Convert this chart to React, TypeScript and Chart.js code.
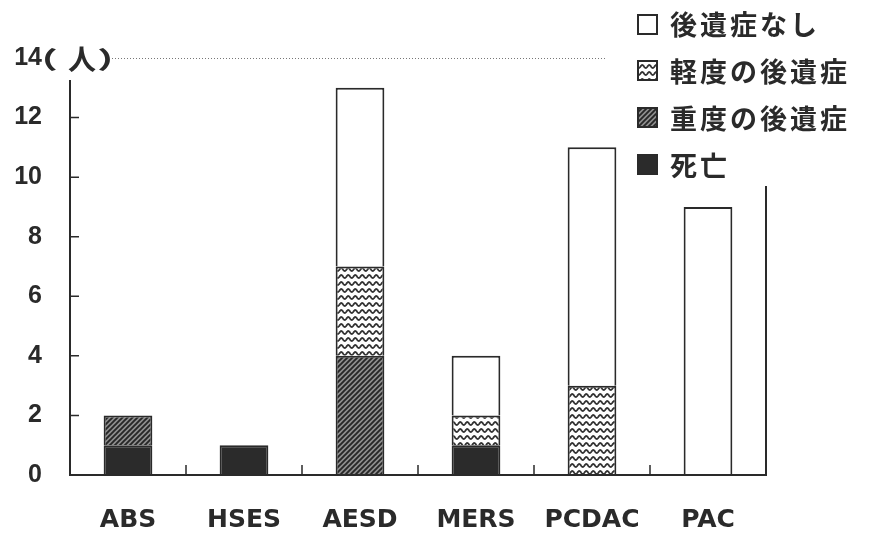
import { useEffect, useRef } from 'react';
import { Chart, registerables } from 'chart.js';

Chart.register(...registerables);

// Disease categories along the x axis
const categories = ['ABS', 'HSES', 'AESD', 'MERS', 'PCDAC', 'PAC'];

// Patients per outcome, stacked bottom to top
const deaths = [1, 1, 0, 1, 0, 0];
const severeSequelae = [1, 0, 4, 0, 0, 0];
const mildSequelae = [0, 0, 3, 1, 3, 0];
const noSequelae = [0, 0, 6, 2, 8, 9];

const seriesLabels = ['死亡', '重度の後遺症', '軽度の後遺症', '後遺症なし'];
const yTickValues = [0, 2, 4, 6, 8, 10, 12, 14];
const unitLabel = ['（', '人', '）'];

const INK = '#2a2a2a';
const LATIN = '"Liberation Sans", Arial, sans-serif';
const LATIN_WIDE = '"DejaVu Sans", sans-serif';
const CJK = '"Noto Sans CJK JP", sans-serif';

// Legend block in the top-right corner
const LEGEND_LEFT = 637;
const LEGEND_TOP = 24;
const LEGEND_STEP = 46.8;
const LEGEND_BOX = 21;
const LEGEND_BOTTOM = 186;

function makeHatch(): CanvasPattern | string {
  const c = document.createElement('canvas');
  c.width = 5;
  c.height = 5;
  const g = c.getContext('2d');
  if (!g) return '#666';
  g.fillStyle = '#8e8e8e';
  g.fillRect(0, 0, 5, 5);
  g.strokeStyle = '#262626';
  g.lineWidth = 1.9;
  g.beginPath();
  g.moveTo(-1, 6);
  g.lineTo(6, -1);
  g.moveTo(-1, 1);
  g.lineTo(1, -1);
  g.moveTo(4, 6);
  g.lineTo(6, 4);
  g.stroke();
  return g.createPattern(c, 'repeat') || '#666';
}

function makeWave(): CanvasPattern | string {
  const w = 7;
  const h = 7;
  const c = document.createElement('canvas');
  c.width = w;
  c.height = h;
  const g = c.getContext('2d');
  if (!g) return '#ccc';
  g.fillStyle = '#ffffff';
  g.fillRect(0, 0, w, h);
  g.strokeStyle = '#333333';
  g.lineWidth = 1.8;
  g.beginPath();
  for (let px = -1; px <= w + 1; px += 0.25) {
    const py = h / 2 + 1.5 * Math.sin((2 * Math.PI * px) / w);
    if (px === -1) g.moveTo(px, py);
    else g.lineTo(px, py);
  }
  g.stroke();
  return g.createPattern(c, 'repeat') || '#ccc';
}

// place a glyph so that its ink starts at inkLeft, optionally stretched
function fillInkAt(
  ctx: CanvasRenderingContext2D,
  text: string,
  inkLeft: number,
  cy: number,
  sx = 1,
  sy = 1,
) {
  const m = ctx.measureText(text);
  ctx.save();
  ctx.translate(inkLeft, cy);
  ctx.scale(sx, sy);
  ctx.fillText(text, m.actualBoundingBoxLeft, 0);
  ctx.restore();
}

const framePlugin = {
  id: 'frame',
  afterDatasetsDraw(chart: any) {
    const { ctx, chartArea: a, scales } = chart;
    const x = scales.x;
    const y = scales.y;
    const yTop = y.getPixelForValue(yTickValues[yTickValues.length - 1]);
    ctx.save();
    ctx.strokeStyle = INK;
    ctx.lineCap = 'butt';

    // axes and right border
    ctx.lineWidth = 2;
    ctx.beginPath();
    ctx.moveTo(a.left, a.bottom + 1);
    ctx.lineTo(a.left, yTop + 22);
    ctx.moveTo(a.left - 1, a.bottom);
    ctx.lineTo(a.right + 1, a.bottom);
    ctx.moveTo(a.right, a.bottom);
    ctx.lineTo(a.right, LEGEND_BOTTOM);
    ctx.stroke();

    // inward ticks on the value axis
    ctx.lineWidth = 1.5;
    ctx.beginPath();
    yTickValues.forEach((v) => {
      if (v <= 0 || v >= 14) return;
      const py = y.getPixelForValue(v);
      ctx.moveTo(a.left, py);
      ctx.lineTo(a.left + 9, py);
    });
    // short ticks between categories
    for (let i = 0; i < categories.length - 1; i++) {
      const px = (x.getPixelForValue(i) + x.getPixelForValue(i + 1)) / 2;
      ctx.moveTo(px, a.bottom);
      ctx.lineTo(px, a.bottom - 10);
    }
    ctx.stroke();

    // dotted top line at the maximum value
    ctx.setLineDash([1, 2]);
    ctx.strokeStyle = '#777';
    ctx.lineWidth = 1;
    ctx.beginPath();
    ctx.moveTo(a.left + 42, yTop + 0.5);
    ctx.lineTo(LEGEND_LEFT - 30, yTop + 0.5);
    ctx.stroke();
    ctx.setLineDash([]);

    // unit label next to the top tick
    ctx.fillStyle = INK;
    ctx.textBaseline = 'middle';
    ctx.textAlign = 'left';
    ctx.font = `900 25px ${CJK}`;
    fillInkAt(ctx, unitLabel[0], a.left - 25, yTop + 1, 1.4, 0.95);
    fillInkAt(ctx, unitLabel[2], a.left + 29, yTop + 1, 1.4, 0.95);
    ctx.font = `bold 28px ${CJK}`;
    fillInkAt(ctx, unitLabel[1], a.left - 2, yTop + 1);

    // legend, top entry first
    const ds = chart.data.datasets;
    ctx.font = `bold 27px ${CJK}`;
    (ctx as any).letterSpacing = '3px';
    for (let k = 0; k < ds.length; k++) {
      const d = ds[ds.length - 1 - k];
      const cy = LEGEND_TOP + k * LEGEND_STEP;
      const bx = LEGEND_LEFT;
      const by = Math.round(cy - LEGEND_BOX / 2);
      ctx.fillStyle = d.backgroundColor;
      ctx.fillRect(bx, by, LEGEND_BOX, LEGEND_BOX);
      ctx.strokeStyle = INK;
      ctx.lineWidth = 2;
      ctx.strokeRect(bx + 1, by + 1, LEGEND_BOX - 2, LEGEND_BOX - 2);
      ctx.fillStyle = INK;
      ctx.fillText(d.label, LEGEND_LEFT + 33, cy + 1);
    }
    (ctx as any).letterSpacing = '0px';
    ctx.restore();
  },
};

export default function App() {
  const canvasRef = useRef<HTMLCanvasElement | null>(null);

  useEffect(() => {
    const canvas = canvasRef.current;
    if (!canvas) return;
    const fills = ['#2b2b2b', makeHatch(), makeWave(), '#ffffff'];
    const values = [deaths, severeSequelae, mildSequelae, noSequelae];

    const chart = new Chart(canvas, {
      type: 'bar',
      data: {
        labels: categories,
        datasets: seriesLabels.map((label, i) => ({
          label,
          // empty segments are left out so no border is drawn for them
          data: values[i].map((v) => (v === 0 ? null : v)),
          backgroundColor: fills[i] as any,
          borderColor: INK,
          borderWidth: 2,
          borderSkipped: 'start',
          categoryPercentage: 1,
          barPercentage: 0.42,
        })),
      },
      options: {
        responsive: true,
        maintainAspectRatio: false,
        animation: false,
        layout: {
          autoPadding: false,
          padding: { top: 58, right: 104, bottom: 0, left: 0 },
        },
        plugins: {
          legend: { display: false },
          tooltip: { enabled: false },
        },
        scales: {
          x: {
            stacked: true,
            grid: { display: false, drawTicks: false },
            border: { display: false },
            ticks: {
              color: INK,
              padding: 30,
              maxRotation: 0,
              font: { family: LATIN_WIDE, size: 25, weight: 'bold' },
            },
            afterFit: (s: any) => {
              s.height = 64;
            },
          },
          y: {
            stacked: true,
            min: 0,
            max: 14,
            grid: { display: false, drawTicks: false },
            border: { display: false },
            ticks: {
              stepSize: 2,
              color: INK,
              padding: 28,
              font: { family: LATIN, size: 25, weight: 'bold' },
            },
            afterFit: (s: any) => {
              s.width = 70;
            },
          },
        },
      },
      plugins: [framePlugin],
    });

    return () => chart.destroy();
  }, []);

  return (
    <div
      style={{
        position: 'fixed',
        left: 0,
        top: 0,
        width: 870,
        height: 539,
        background: '#ffffff',
      }}
    >
      <canvas ref={canvasRef} />
    </div>
  );
}
